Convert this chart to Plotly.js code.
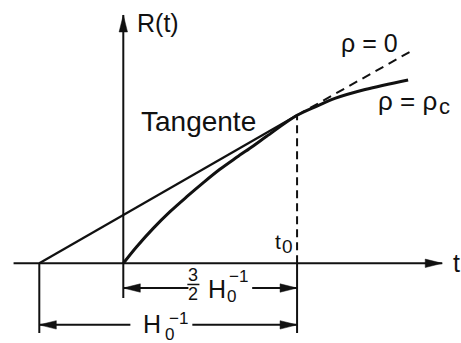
<!DOCTYPE html>
<html>
<head>
<meta charset="utf-8">
<script src="https://cdn.plot.ly/plotly-3.0.1.min.js"></script>
<style>
html, body { margin: 0; padding: 0; background: #fff; }
#chart { width: 461px; height: 343px; }
</style>
</head>
<body>
<div id="chart"></div>
<script>
// time in units of 1/H0, scale factor normalised so that R(t0) = 1
var t0 = 0.662;
var tStart = -0.32;   // tangent meets the t axis here

// rho = rho_c curve
var curveT = [0, 0.051, 0.114, 0.178, 0.242, 0.305, 0.368, 0.432, 0.495, 0.546, 0.662, 0.742, 0.806, 0.921, 1.085];
var curveR = [0, 0.112, 0.236, 0.349, 0.450, 0.545, 0.635, 0.716, 0.793, 0.858, 1.0, 1.066, 1.114, 1.174, 1.239];

// tangent, solid up to t0, then the rho = 0 line dashed
var tangentT = [tStart, t0];
var tangentR = [0, 1];
var emptyT = [t0, 1.104];
var emptyR = [1, 1.441];

// axes
var axisT = [-0.418, 1.215];
var axisR = [-0.234, 1.678];

// dimension lines under the t axis
var dimBottom = -0.471;
var rowHalf = -0.167;     // 3/2 H0^-1 row
var rowFull = -0.416;     // H0^-1 row
var gapHalf = [0.248, 0.491];
var gapFull = [0.027, 0.263];

var W = 461, H = 343;
var xRange = [-0.4697, 1.2865];
var yRange = [-0.5385, 1.7791];
var pxT = W / (xRange[1] - xRange[0]);
var pxR = H / (yRange[1] - yRange[0]);
var ink = '#111';

function seg(xs, ys, width, dash) {
    return {x: xs, y: ys, mode: 'lines', hoverinfo: 'skip',
            line: {color: ink, width: width, dash: dash || 'solid'}};
}

// narrow filled arrow head, 17px long
function head(tipT, tipR, dir) {
    var L = 17, w = 4.2, xs, ys;
    if (dir === 'r') {
        xs = [tipT, tipT - L / pxT, tipT - L / pxT, tipT];
        ys = [tipR, tipR + w / pxR, tipR - w / pxR, tipR];
    } else if (dir === 'l') {
        xs = [tipT, tipT + L / pxT, tipT + L / pxT, tipT];
        ys = [tipR, tipR + w / pxR, tipR - w / pxR, tipR];
    } else {
        xs = [tipT, tipT - w / pxT, tipT + w / pxT, tipT];
        ys = [tipR, tipR - L / pxR, tipR - L / pxR, tipR];
    }
    return {x: xs, y: ys, mode: 'lines', fill: 'toself', fillcolor: ink,
            line: {color: ink, width: 0.5}, hoverinfo: 'skip'};
}

var curve = seg(curveT, curveR, 3);
curve.line.shape = 'spline';
curve.line.smoothing = 1;

var traces = [
    // axes
    seg(axisT, [0, 0], 2),
    seg([0, 0], axisR, 2),
    head(axisT[1], 0, 'r'),
    head(0, axisR[1], 'u'),
    // curves
    seg(tangentT, tangentR, 2.2),
    seg(emptyT, emptyR, 2, '9px,6px'),
    curve,
    // t0 marker
    seg([t0, t0], [0, 1], 2, '8px,5px'),
    // dimension ticks
    seg([tStart, tStart], [0, dimBottom], 2),
    seg([t0, t0], [0, dimBottom], 2),
    // 3/2 H0^-1 arrow
    seg([0, gapHalf[0]], [rowHalf, rowHalf], 2),
    seg([gapHalf[1], t0], [rowHalf, rowHalf], 2),
    head(0, rowHalf, 'l'),
    head(t0, rowHalf, 'r'),
    // H0^-1 arrow
    seg([tStart, gapFull[0]], [rowFull, rowFull], 2),
    seg([gapFull[1], t0], [rowFull, rowFull], 2),
    head(tStart, rowFull, 'l'),
    head(t0, rowFull, 'r'),
    // fraction bar of 3/2
    seg([0.244, 0.290], [-0.143, -0.143], 1.5)
];

var font = 'Liberation Sans, Arial, Helvetica, sans-serif';
function label(t, r, text, size, xanchor) {
    return {x: t, y: r, xref: 'x', yref: 'y', text: text, showarrow: false,
            xanchor: xanchor || 'center', yanchor: 'middle',
            font: {family: font, size: size, color: ink}};
}

var annotations = [
    label(0.046, 1.624, 'R(t)', 25, 'left'),
    label(1.250, 0.0, 't', 25, 'left'),
    label(0.286, 0.955, 'Tangente', 28),
    label(0.937, 1.488, '\u03c1 = 0', 25),
    label(0.962, 1.099, '\u03c1 = \u03c1', 26, 'left'),
    label(1.222, 1.060, 'c', 22),
    label(0.588, 0.149, 't', 21),
    label(0.626, 0.112, '0', 19),
    label(0.267, -0.080, '3', 18),
    label(0.267, -0.209, '2', 18),
    label(0.356, -0.173, 'H', 25),
    label(0.411, -0.223, '0', 17),
    label(0.438, -0.087, '\u22121', 17),
    label(0.109, -0.410, 'H', 25),
    label(0.175, -0.478, '0', 17),
    label(0.210, -0.376, '\u22121', 17)
];

var layout = {
    width: W, height: H,
    margin: {l: 0, r: 0, t: 0, b: 0},
    paper_bgcolor: '#fff', plot_bgcolor: '#fff',
    showlegend: false,
    xaxis: {range: xRange, visible: false, fixedrange: true},
    yaxis: {range: yRange, visible: false, fixedrange: true},
    annotations: annotations
};

Plotly.newPlot('chart', traces, layout, {displayModeBar: false, staticPlot: true});
</script>
</body>
</html>
